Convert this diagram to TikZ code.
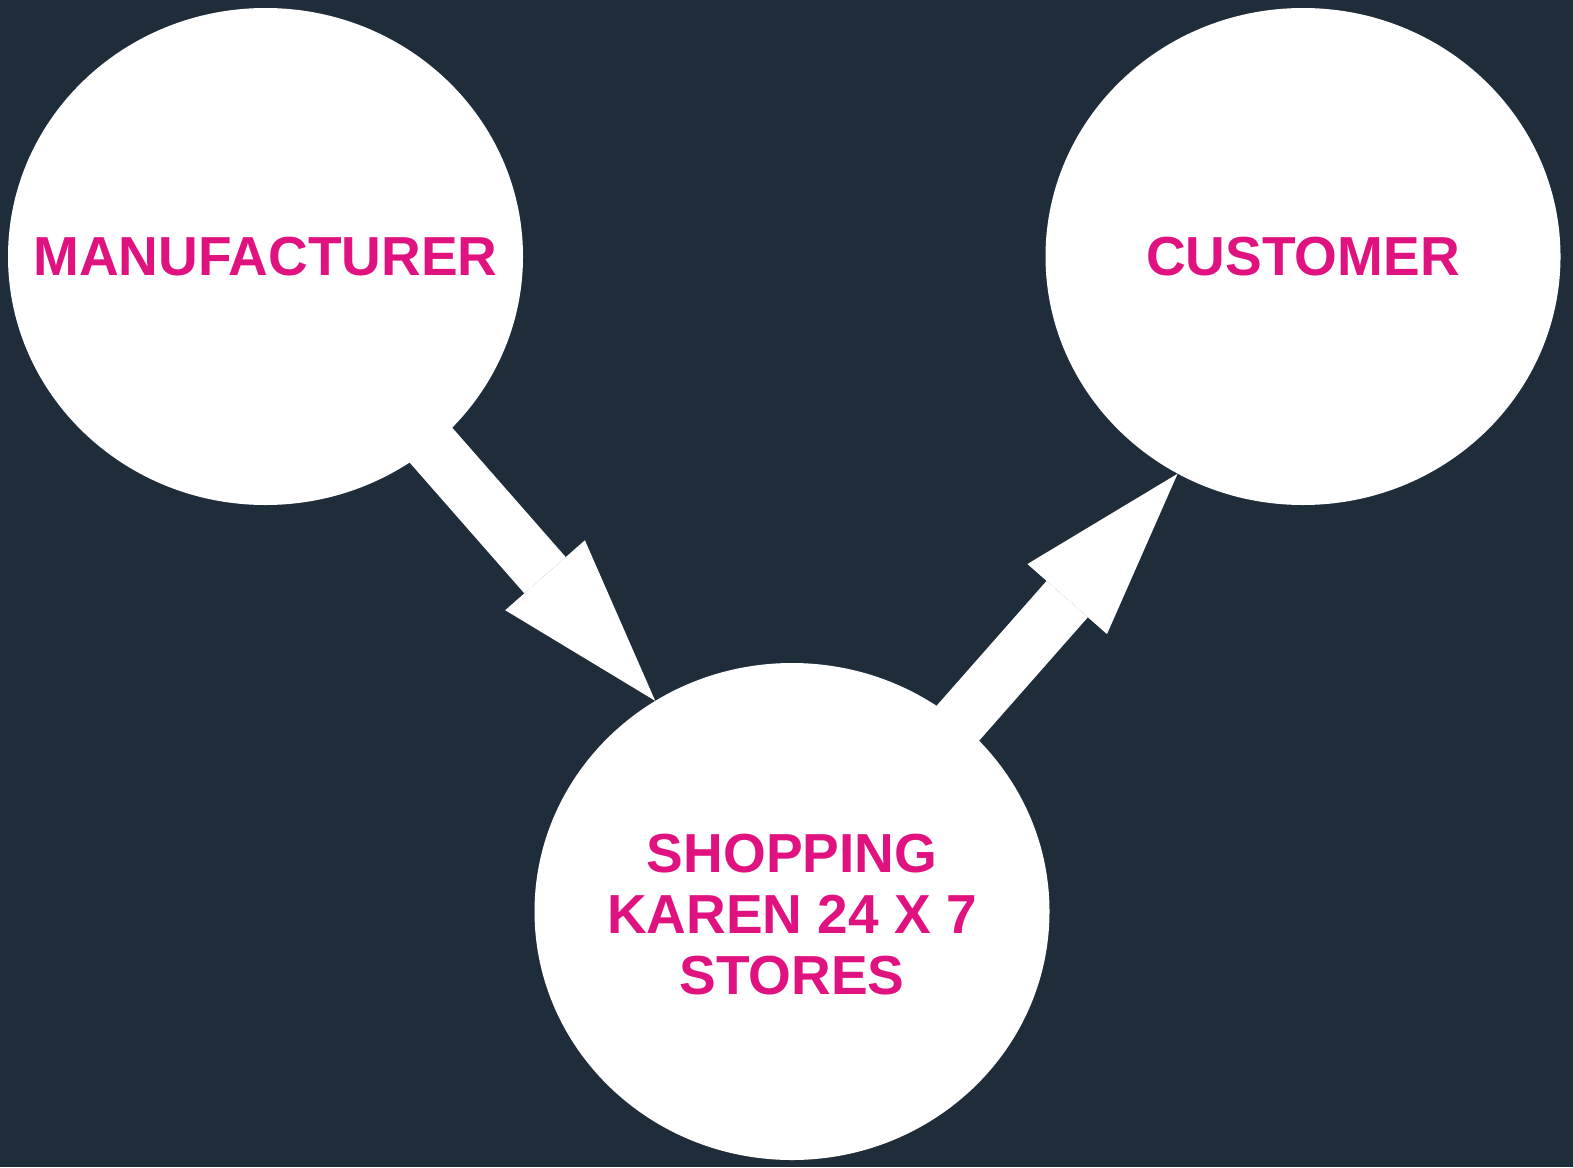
\documentclass[tikz,border=0pt]{standalone}
\usepackage{fontspec}
\setmainfont{Liberation Sans}
\usepackage{tikz}
\usetikzlibrary{shapes.geometric,arrows.meta,backgrounds}
\definecolor{boardbg}{HTML}{1F2D3B}
\definecolor{pinktext}{HTML}{E0127F}

\begin{document}
\begin{tikzpicture}[x=1pt,y=-1pt,
  bubble/.style={ellipse,fill=white,minimum width=515pt,minimum height=497pt,
    inner sep=0pt},
  tag/.style={text=pinktext,align=center,inner sep=0pt,
    font=\fontsize{55}{61}\selectfont\bfseries},
  flow/.style={draw=white,line width=55pt,
    -{Triangle[length=167pt,width=106pt,line width=0pt]}}]

\useasboundingbox (0,0) rectangle (1573,1167);

\node[bubble,label={[tag]center:MANUFACTURER}] (maker) at (265.5,256.5) {};
\node[bubble,label={[tag]center:CUSTOMER}] (buyer) at (1303,256.5) {};
\node[bubble,label={[tag,yshift=-3pt]center:{SHOPPING\\KAREN 24 X 7\\STORES}}] (store) at (792,911.5) {};

\begin{scope}[on background layer]
\fill[boardbg] (0,0) rectangle (1573,1167);
\draw[flow] (maker.center) -- (store.123.5);
\draw[flow] (store.center) -- (buyer.240);
\end{scope}

\end{tikzpicture}
\end{document}
